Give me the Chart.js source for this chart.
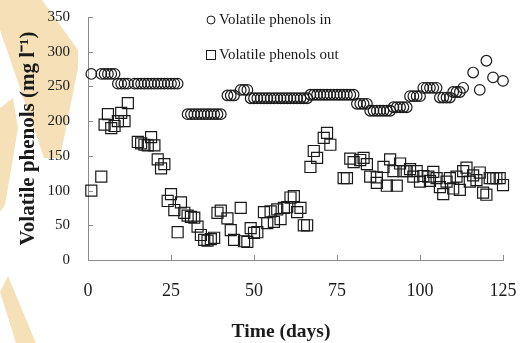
<!DOCTYPE html>
<html>
<head>
<meta charset="utf-8">
<script src="https://cdn.jsdelivr.net/npm/chart.js@4/dist/chart.umd.min.js"></script>
<style>
html, body { margin: 0; padding: 0; background: #fff; }
</style>
</head>
<body>
<canvas id="myChart" width="523" height="343"></canvas>
<script>
// data (day, mg/l)
var inDays = [1, 4, 5, 6, 7, 8, 9, 10, 11, 12, 14, 15, 16, 17, 18, 19, 20, 21, 22, 23, 24, 25, 26, 27,
    30, 31, 32, 33, 34, 35, 36, 37, 38, 39, 40, 42, 43, 44, 46, 47, 48,
    49, 50, 51, 52, 53, 54, 55, 56, 57, 58, 59, 60, 61, 62, 63, 64, 65, 66,
    67, 68, 69, 70, 71, 72, 73, 74, 75, 76, 77, 78, 79, 80,
    81, 82, 83, 84, 85, 86, 87, 88, 89, 90, 91, 92, 93, 94, 95, 96,
    97, 98, 99, 100, 101, 102, 103, 104, 105, 106, 107, 108, 109, 110, 111, 112,
    113, 116, 118, 120, 122, 125];
var inValues = [268, 268, 268, 268, 268, 268, 254, 254, 254, 254, 254, 254, 254, 254, 254, 254, 254, 254, 254, 254, 254, 254, 254, 254,
    210, 210, 210, 210, 210, 210, 210, 210, 210, 210, 210, 237, 237, 237, 245, 245, 245,
    233, 233, 233, 233, 233, 233, 233, 233, 233, 233, 233, 233, 233, 233, 233, 233, 233, 233,
    238, 238, 238, 238, 238, 238, 238, 238, 238, 238, 238, 238, 238, 238,
    225, 225, 225, 225, 215, 215, 215, 215, 215, 215, 215, 220, 220, 220, 220, 220,
    236, 236, 236, 236, 248, 248, 248, 248, 248, 234, 234, 234, 234, 242, 242, 242,
    248, 270, 245, 287, 263, 258];

var outDays = [1, 4, 5, 6, 7, 8, 9, 10, 11, 12,
    15, 16, 17, 18, 19, 20, 21, 22, 23,
    24, 25, 26, 27, 28, 29, 30, 31, 32, 33, 34, 35, 36, 37, 38,
    39, 40, 42, 43, 44, 46, 47, 48, 49, 50, 51, 53, 54, 55, 56, 57, 58, 59, 60, 61, 62, 63, 64, 65, 66,
    67, 68, 69, 71, 72, 73, 77, 78,
    79, 80, 82, 83, 84, 85, 87, 87, 89, 90, 91, 92, 93, 94, 95, 96, 97, 98, 99, 100,
    101, 102.5, 103, 104, 105, 106, 107, 108, 109, 110, 111, 112, 113, 114, 115, 116, 117, 118, 119, 120,
    121, 122, 123, 124, 125];
var outValues = [100, 120, 195, 210, 190, 193, 200, 212, 200, 226,
    170, 168, 166, 165, 177, 165, 145, 132, 138,
    85, 95, 72, 40, 83, 68, 64, 62, 61, 48, 36, 29, 28, 30, 32,
    68, 71, 60, 43, 29, 75, 27, 26, 46, 39, 40, 69, 53, 70, 55, 73, 59, 75, 76, 90, 92, 69, 75, 50, 50,
    134, 157, 147, 176, 183, 166, 118, 118,
    146, 141, 144, 147, 138, 120, 119, 111, 134, 107, 145, 128, 107, 139, 128, 128, 131, 120, 128, 113,
    121, 120, 114, 127, 118, 105, 95, 113, 118, 103, 120, 101, 128, 133, 113, 122, 115, 126, 97, 94,
    118, 118, 118, 118, 108];

var xTicks = [0, 25, 50, 75, 100, 125];
var yTicks = [0, 50, 100, 150, 200, 250, 300, 350];

function toPoints(xs, ys) {
    var pts = [];
    for (var i = 0; i < xs.length; ++i) {
	pts.push({ x: xs[i], y: ys[i] });
    }
    return pts;
}

var serif = "'Liberation Serif', 'Times New Roman', serif";
var ink = '#1a1a1a';

// faint logo in the background, left side
var watermark = {
    id: 'watermark',
    beforeDraw: function(chart) {
	var ctx = chart.ctx;
	var shapes = [
	    [[0, 0], [42, 0], [78, 50], [78, 68], [60, 158], [44, 158], [0, 30]],
	    [[0, 108], [13, 98], [18, 128], [5, 205], [0, 212]],
	    [[0, 292], [8, 276], [36, 343], [16, 343]]
	];
	ctx.save();
	ctx.fillStyle = '#f6e0b8';
	shapes.forEach(function(s) {
	    ctx.beginPath();
	    ctx.moveTo(s[0][0], s[0][1]);
	    for (var i = 1; i < s.length; ++i) ctx.lineTo(s[i][0], s[i][1]);
	    ctx.closePath();
	    ctx.fill();
	});
	ctx.restore();
    }
};

// tick marks pointing into the plot, x title, and the legend inside the plot
var extras = {
    id: 'extras',
    afterDraw: function(chart) {
	var ctx = chart.ctx, xs = chart.scales.x, ys = chart.scales.y;
	var a = chart.chartArea;
	ctx.save();
	ctx.strokeStyle = '#8a8a8a';
	ctx.lineWidth = 1;
	ctx.beginPath();
	xTicks.forEach(function(v) {
	    var px = Math.round(xs.getPixelForValue(v)) + 0.5;
	    ctx.moveTo(px, a.bottom);
	    ctx.lineTo(px, a.bottom - 5);
	});
	yTicks.forEach(function(v) {
	    var py = Math.round(ys.getPixelForValue(v)) + 0.5;
	    ctx.moveTo(a.left, py);
	    ctx.lineTo(a.left + 5, py);
	});
	ctx.stroke();

	// x axis title, sits a little left of the plot centre
	ctx.fillStyle = ink;
	ctx.textAlign = 'center';
	ctx.textBaseline = 'middle';
	ctx.font = 'bold 19.5px ' + serif;
	ctx.fillText('Time (days)', 281, 332);

	// legend
	ctx.strokeStyle = ink;
	ctx.lineWidth = 1;
	ctx.beginPath();
	ctx.arc(211, 20, 4, 0, Math.PI * 2);
	ctx.stroke();
	ctx.strokeRect(206.5, 50.5, 9, 9);
	ctx.font = '15px ' + serif;
	ctx.textAlign = 'left';
	ctx.fillText('Volatile phenols in', 219, 20);
	ctx.fillText('Volatile phenols out', 219, 55);
	ctx.restore();
    }
};

function drawChart() {
    var ctx = document.getElementById('myChart').getContext('2d');
    var myChart = new Chart(ctx, {
	type: 'scatter',
	data: {
	    datasets: [
		{ label: 'Volatile phenols in', data: toPoints(inDays, inValues),
		  pointStyle: 'circle', pointRadius: 5.3, borderColor: ink,
		  backgroundColor: 'rgba(0,0,0,0)', borderWidth: 1.2, clip: false },
		{ label: 'Volatile phenols out', data: toPoints(outDays, outValues),
		  pointStyle: 'rect', pointRadius: 7.8, borderColor: ink,
		  backgroundColor: 'rgba(0,0,0,0)', borderWidth: 1.2, clip: false }
	    ]
	},
	options: {
	    responsive: false,
	    animation: false,
	    layout: { padding: { top: 17, right: 20, left: 0, bottom: 0 } },
	    plugins: {
		legend: { display: false },
		tooltip: { enabled: false }
	    },
	    scales: {
		x: {
		    type: 'linear', min: 0, max: 125,
		    afterBuildTicks: function(s) { s.ticks = xTicks.map(function(v) { return { value: v }; }); },
		    afterFit: function(s) { s.height = 83; s.paddingLeft = 0; s.paddingRight = 0; },
		    ticks: { color: ink, padding: 20, font: { family: serif, size: 18 } },
		    grid: { drawOnChartArea: false, drawTicks: false },
		    border: { display: true, color: '#8a8a8a', width: 1 }
		},
		y: {
		    min: 0, max: 350,
		    afterBuildTicks: function(s) { s.ticks = yTicks.map(function(v) { return { value: v }; }); },
		    afterFit: function(s) { s.width = 88; s.paddingTop = 0; s.paddingBottom = 0; },
		    ticks: { color: ink, padding: 18, font: { family: serif, size: 15 } },
		    grid: { drawOnChartArea: false, drawTicks: false },
		    border: { display: true, color: '#8a8a8a', width: 1 },
		    title: { display: true, text: 'Volatile phenols (mg l\u207B\u00B9)', color: ink,
			     padding: { top: 16, bottom: 0 },
			     font: { family: serif, size: 21, weight: 'bold' } }
		}
	    }
	},
	plugins: [watermark, extras]
    });
}

drawChart();
</script>
</body>
</html>
